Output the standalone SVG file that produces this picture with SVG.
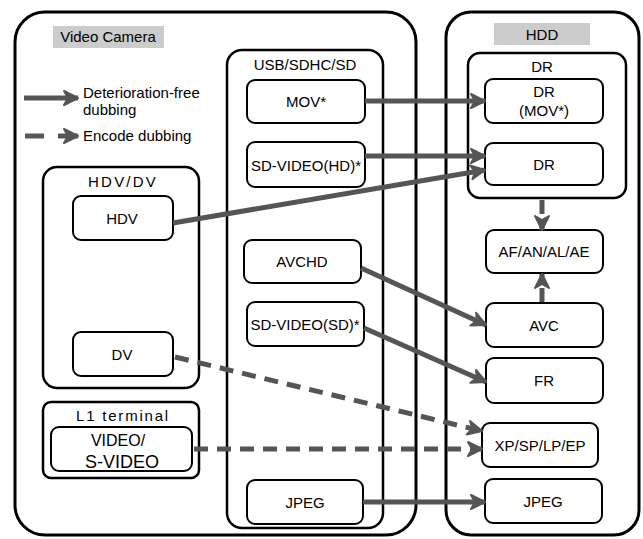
<svg xmlns="http://www.w3.org/2000/svg" width="643" height="539" viewBox="0 0 643 539">
<style>
text{font-family:"Liberation Sans",Arial,sans-serif;font-size:15px;fill:#000;text-anchor:middle}
.outer{fill:#fff;stroke:#000;stroke-width:3}
.grp{fill:#fff;stroke:#000;stroke-width:2.5}
.box{fill:#fff;stroke:#000;stroke-width:2}
.lbl{fill:#ccc}
.sp{letter-spacing:2.2px}
.st{text-anchor:start}
.c{fill:none;stroke:#555;stroke-width:5}
.d{stroke-dasharray:14 9}
</style>
<defs>
<marker id="ah" markerUnits="userSpaceOnUse" markerWidth="18" markerHeight="18" viewBox="0 0 18 18" refX="16" refY="9" orient="auto">
<path d="M2,2 L16,9 L2,16 L6,9 Z" fill="#555" stroke="#555" stroke-width="2" stroke-linejoin="round"/>
</marker>
</defs>
<g id="camera">
<rect class="outer" x="15" y="12" width="401" height="523" rx="30"/>
<rect class="lbl" x="53" y="26" width="111" height="22"/>
<text x="108" y="42">Video Camera</text>
</g>
<g id="legend">
<line class="c" x1="24" y1="98" x2="78" y2="98" marker-end="url(#ah)"/>
<text class="st" x="83" y="98">Deterioration-free</text>
<text class="st" x="83" y="115">dubbing</text>
<line class="c" x1="25" y1="136" x2="44" y2="136"/>
<line class="c" x1="58" y1="136" x2="78" y2="136" marker-end="url(#ah)"/>
<text class="st" x="83" y="141">Encode dubbing</text>
</g>
<g id="hdd">
<rect class="outer" x="446" y="12" width="193" height="523" rx="25"/>
<rect class="lbl" x="494" y="23" width="96" height="22"/>
<text x="542" y="40">HDD</text>
</g>
<g id="usb">
<rect class="grp" x="227" y="50" width="156" height="478" rx="15"/>
<text x="305" y="70">USB/SDHC/SD</text>
</g>
<g id="hdvdv">
<rect class="grp" x="43" y="167" width="156" height="221" rx="14"/>
<text class="sp" x="123" y="187">HDV/DV</text>
</g>
<g id="l1">
<rect class="grp" x="43" y="402" width="156" height="76" rx="8"/>
<text style="letter-spacing:1.8px" x="123" y="421">L1 terminal</text>
</g>
<g id="drgrp">
<rect class="grp" x="468" y="53" width="158" height="145" rx="12"/>
<text x="542" y="72">DR</text>
</g>
<g id="mov"><rect class="box" x="247" y="80" width="118" height="43" rx="8"/><text x="306" y="107">MOV*</text></g>
<g id="sdhd"><rect class="box" x="247" y="142" width="118" height="45" rx="8"/><text x="306" y="171">SD-VIDEO(HD)*</text></g>
<g id="hdv"><rect class="box" x="73" y="196" width="100" height="44" rx="8"/><text x="122" y="224">HDV</text></g>
<g id="avchd"><rect class="box" x="244" y="240" width="117" height="43" rx="8"/><text x="302" y="267">AVCHD</text></g>
<g id="sdsd"><rect class="box" x="247" y="302" width="117" height="44" rx="8"/><text x="305" y="330">SD-VIDEO(SD)*</text></g>
<g id="dv"><rect class="box" x="73" y="332" width="100" height="44" rx="8"/><text x="122" y="360">DV</text></g>
<g id="video"><rect class="box" x="51" y="427" width="141" height="44" rx="8"/><text x="118" y="446" style="font-size:16px">VIDEO/</text><text x="122" y="468" style="font-size:18px">S-VIDEO</text></g>
<g id="jpegc"><rect class="box" x="247" y="480" width="116" height="44" rx="8"/><text x="305" y="508">JPEG</text></g>
<g id="drmov"><rect class="box" x="485" y="79" width="118" height="44" rx="8"/><text x="544" y="97">DR</text><text x="544" y="116">(MOV*)</text></g>
<g id="dr"><rect class="box" x="485" y="143" width="118" height="42" rx="8"/><text x="544" y="170">DR</text></g>
<g id="af"><rect class="box" x="486" y="230" width="117" height="43" rx="8"/><text x="544" y="257">AF/AN/AL/AE</text></g>
<g id="avc"><rect class="box" x="486" y="303" width="117" height="44" rx="8"/><text x="544" y="331">AVC</text></g>
<g id="fr"><rect class="box" x="486" y="358" width="117" height="45" rx="8"/><text x="544" y="386">FR</text></g>
<g id="xp"><rect class="box" x="482" y="423" width="116" height="44" rx="8"/><text x="540" y="451">XP/SP/LP/EP</text></g>
<g id="jpegh"><rect class="box" x="485" y="479" width="117" height="44" rx="8"/><text x="543" y="507">JPEG</text></g>
<g id="connectors">
<line class="c" x1="365" y1="101" x2="485" y2="101" marker-end="url(#ah)"/>
<line class="c" x1="365" y1="156" x2="485" y2="156" marker-end="url(#ah)"/>
<line class="c" x1="173" y1="223" x2="485" y2="170" marker-end="url(#ah)"/>
<line class="c" x1="361" y1="268" x2="486" y2="325" marker-end="url(#ah)"/>
<line class="c" x1="364" y1="328" x2="486" y2="382" marker-end="url(#ah)"/>
<line class="c d" x1="175" y1="357" x2="482" y2="431" marker-end="url(#ah)"/>
<line class="c d" x1="194" y1="449" x2="482" y2="449" marker-end="url(#ah)"/>
<line class="c" x1="363" y1="502" x2="485" y2="502" marker-end="url(#ah)"/>
<line class="c d" x1="542" y1="200" x2="542" y2="230" marker-end="url(#ah)"/>
<line class="c d" x1="542" y1="302" x2="542" y2="274" marker-end="url(#ah)"/>
</g>
</svg>
